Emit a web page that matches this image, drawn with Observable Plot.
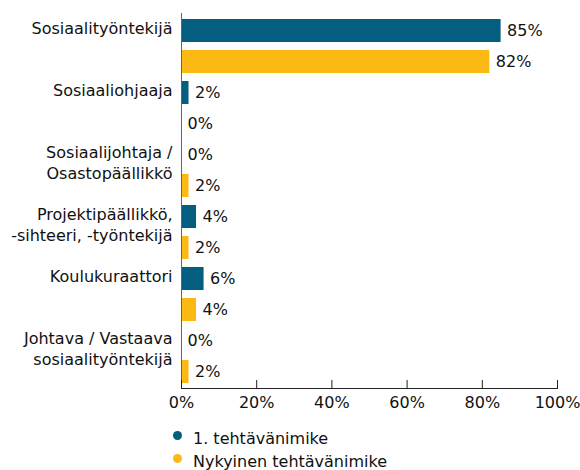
<!DOCTYPE html>
<html>
<head>
<meta charset="utf-8">
<script src="https://cdn.jsdelivr.net/npm/d3@7"></script>
<script src="https://cdn.jsdelivr.net/npm/@observablehq/plot@0.6"></script>
<style>
  body { margin: 0; background: #fff; font-family: "DejaVu Sans", sans-serif; }
  #chart svg { display: block; }
  .legend { position: relative; height: 52px; font-size: 16px; color: #111; }
  .legend .row { position: absolute; left: 173px; display: flex; align-items: center; height: 20px; }
  .legend .dot { width: 9px; height: 9px; border-radius: 50%; margin-right: 11px; margin-top: -6px; }
</style>
</head>
<body>
<div id="chart"></div>
<div class="legend" id="legend"></div>
<script>
const categories = [
  "Sosiaalityöntekijä",
  "Sosiaaliohjaaja",
  "Sosiaalijohtaja /\nOsastopäällikkö",
  "Projektipäällikkö,\n-sihteeri, -työntekijä",
  "Koulukuraattori",
  "Johtava / Vastaava\nsosiaalityöntekijä"
];
const series = ["1. tehtävänimike", "Nykyinen tehtävänimike"];
const firstTitle = [85, 2, 0, 4, 6, 0];
const currentTitle = [82, 0, 2, 2, 4, 2];
const seriesValues = [firstTitle, currentTitle];
const colors = ["#035E80", "#FDB913"];
const xTicks = [0, 20, 40, 60, 80, 100];

const rows = categories.flatMap((c, i) => series.map((s, j) => ({
  cat: c, series: s, key: i + "|" + j, value: seriesValues[j][i]
})));
const labelRows = categories.map((c, i) => ({cat: c, key: i + "|0", x0: 0}));

const chart = Plot.plot({
  width: 580,
  height: 418,
  marginLeft: 181,
  marginRight: 23,
  marginTop: 13,
  marginBottom: 30,
  style: {fontFamily: "DejaVu Sans", fontSize: "16px", color: "#111", background: "#fff"},
  x: {domain: [0, 100], label: null},
  y: {domain: rows.map(d => d.key), paddingInner: 0.26, paddingOuter: 0.13, axis: null},
  color: {domain: series, range: colors},
  marks: [
    Plot.barX(rows, {x: "value", y: "key", fill: "series"}),
    Plot.text(rows, {x: "value", y: "key", text: d => d.value + "%", textAnchor: "start", dx: 6, fill: "#111"}),
    Plot.text(labelRows, {x: "x0", y: "key", text: "cat", textAnchor: "end", lineAnchor: "top", dx: -9, dy: -12, lineHeight: 1.3, fill: "#111"}),
    Plot.frame({anchor: "left", stroke: "#666"}),
    Plot.frame({anchor: "bottom", stroke: "#222"}),
    Plot.axisX({ticks: xTicks, tickFormat: d => d + "%", tickSize: -8, tickPadding: 16, stroke: "#222", fill: "#111", label: null})
  ]
});
document.getElementById("chart").appendChild(chart);

const legend = document.getElementById("legend");
series.forEach((s, j) => {
  const row = document.createElement("div");
  row.className = "row";
  row.style.top = (10 + j * 23) + "px";
  const dot = document.createElement("span");
  dot.className = "dot";
  dot.style.background = colors[j];
  const t = document.createElement("span");
  t.textContent = s;
  row.appendChild(dot);
  row.appendChild(t);
  legend.appendChild(row);
});
</script>
</body>
</html>
